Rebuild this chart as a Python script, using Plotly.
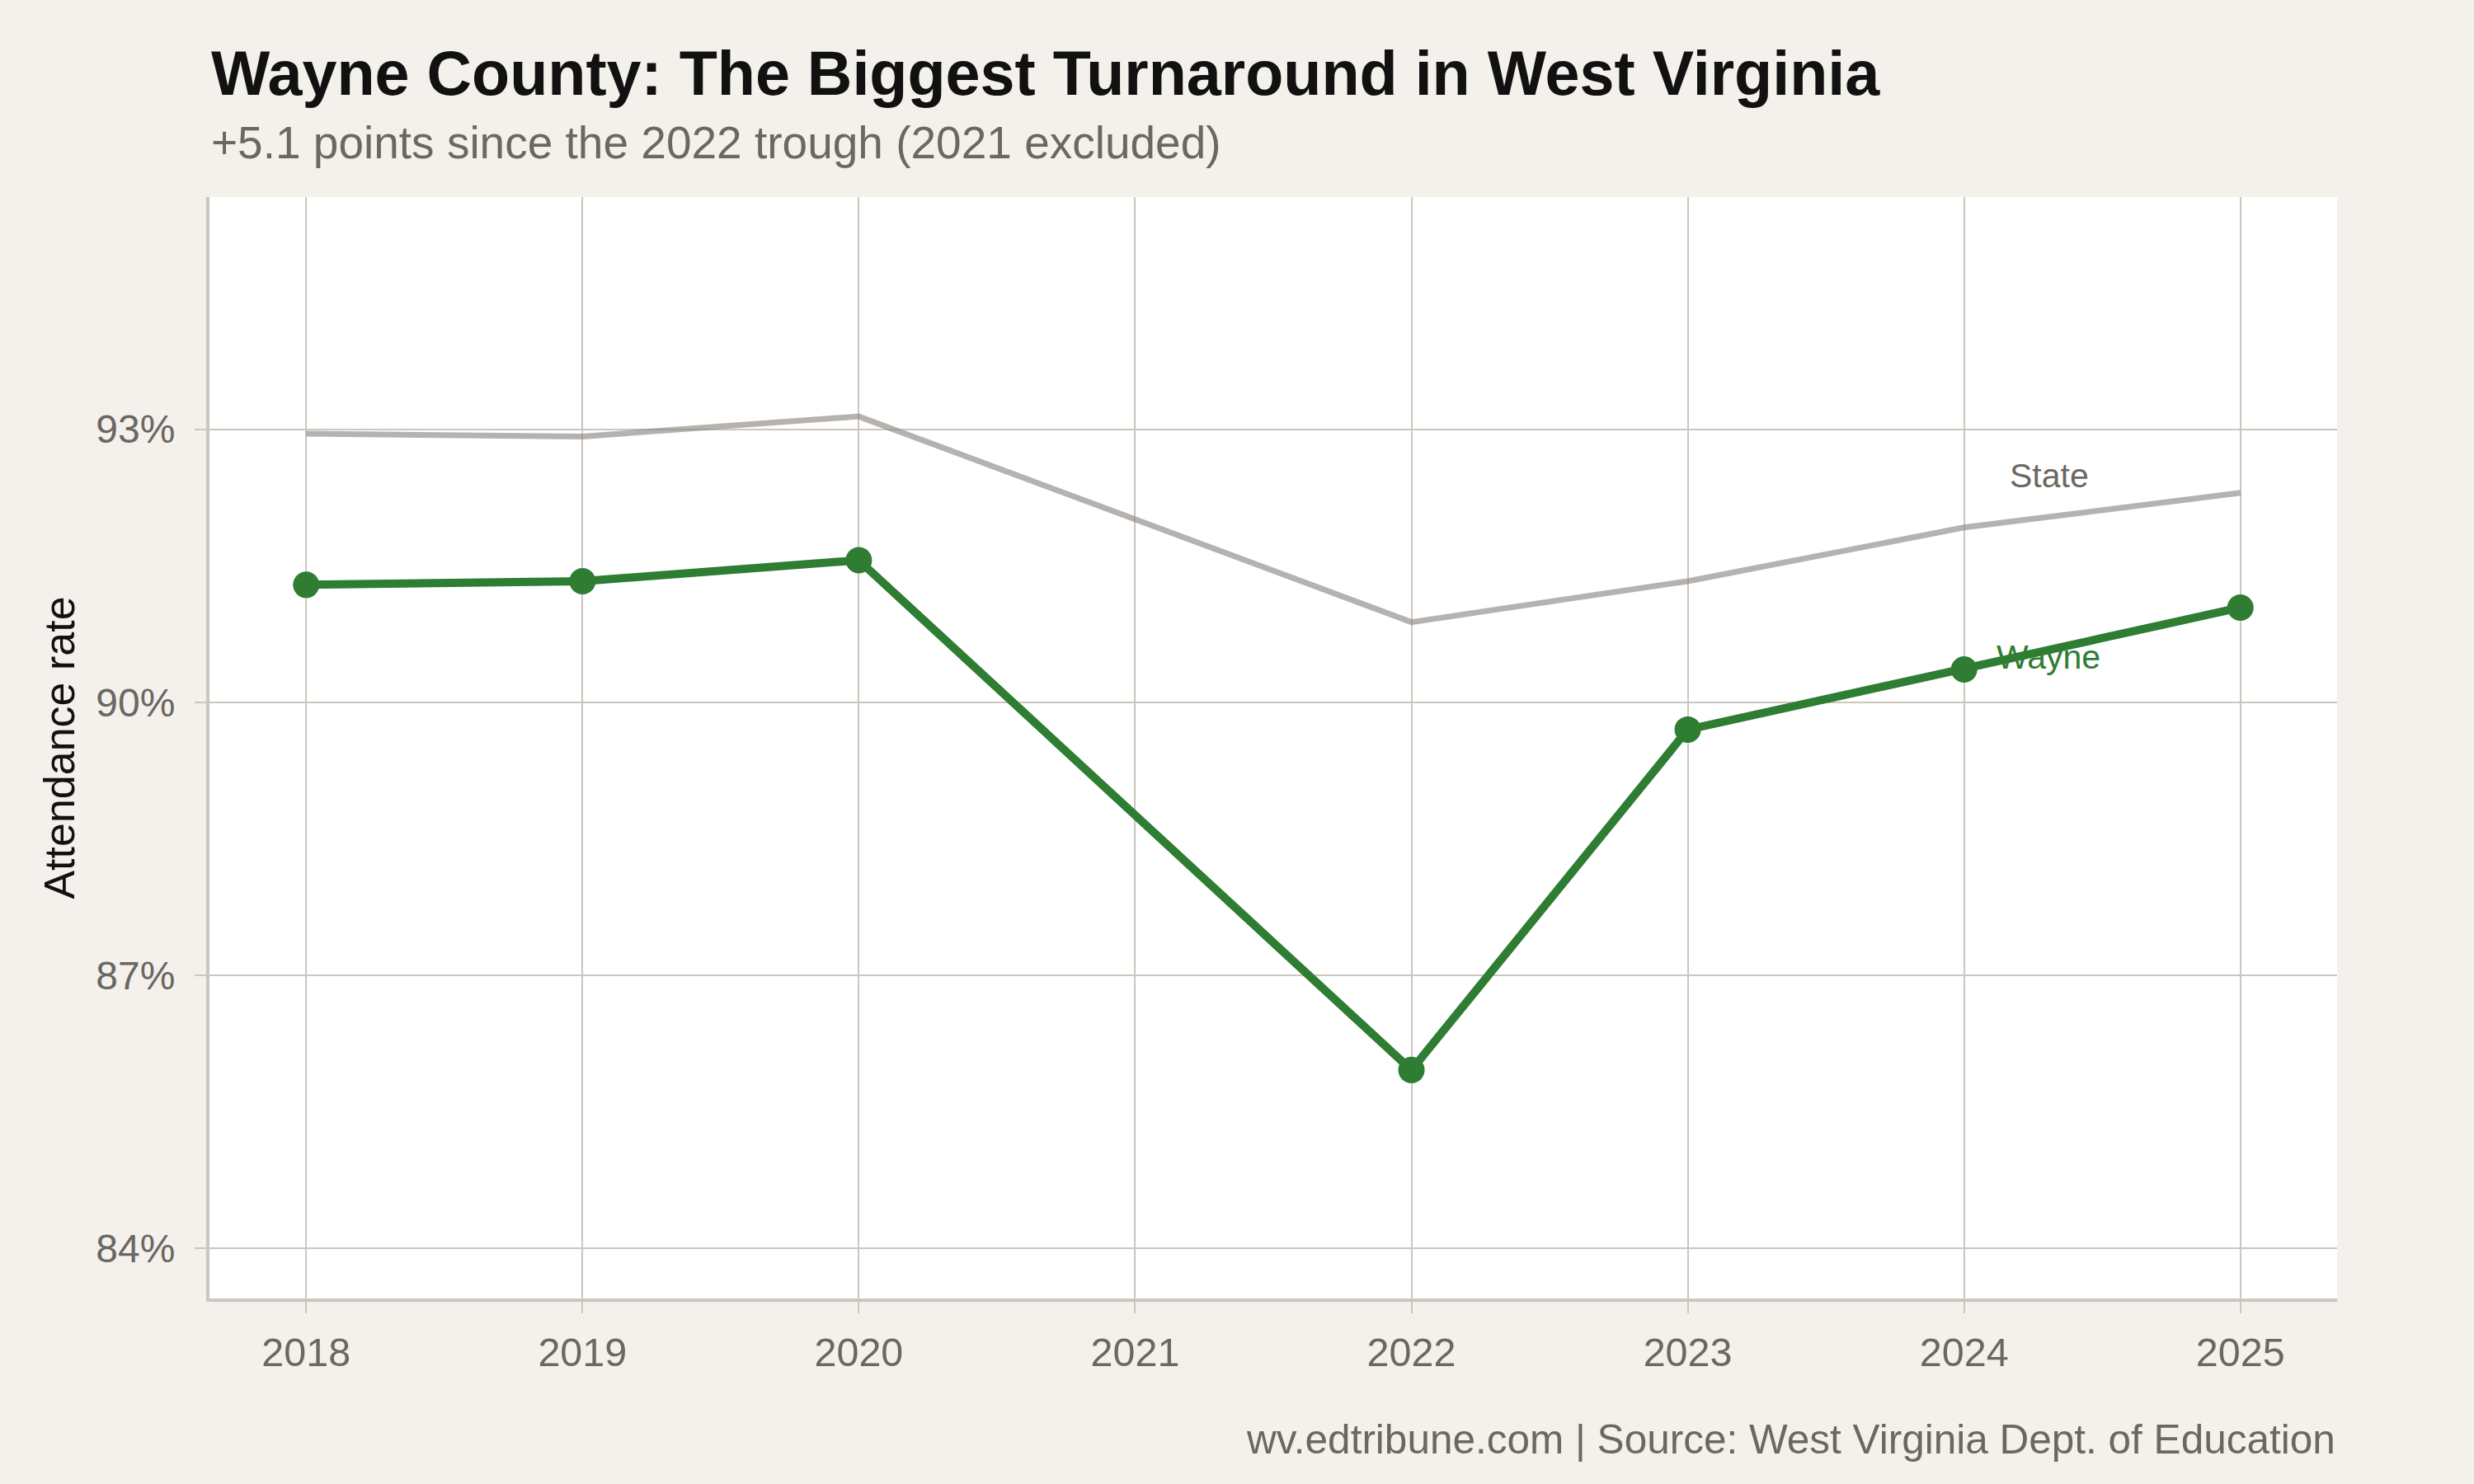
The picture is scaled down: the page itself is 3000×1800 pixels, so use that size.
import plotly.graph_objects as go

years = [2018, 2019, 2020, 2021, 2022, 2023, 2024, 2025]
wayne = [91.29, 91.33, 91.56, None, 85.96, 89.70, 90.36, 91.04]
state = [92.95, 92.92, 93.14, None, 90.88, 91.33, 91.92, 92.30]
ytick_vals = [84, 87, 90, 93]
ytick_text = ["84%", "87%", "90%", "93%"]

title = "Wayne County: The Biggest Turnaround in West Virginia"
subtitle = "+5.1 points since the 2022 trough (2021 excluded)"
footer = "wv.edtribune.com | Source: West Virginia Dept. of Education"

FONT = "Liberation Sans"
GREEN = "#2e7d32"
GRID = "#cbc6be"
MUTED = "#6b6762"

fig = go.Figure()
fig.add_trace(go.Scatter(
    x=years, y=state, mode="lines", connectgaps=True,
    line=dict(color="rgba(143,136,132,0.65)", width=7), hoverinfo="skip", showlegend=False))
fig.add_trace(go.Scatter(
    x=years, y=wayne, mode="lines+markers", connectgaps=True,
    line=dict(color=GREEN, width=10), marker=dict(color=GREEN, size=32), showlegend=False))

fig.add_annotation(x=2024.16, y=92.49, text="State", showarrow=False, xanchor="left", yanchor="middle",
                   font=dict(family=FONT, size=41, color=MUTED))
fig.add_annotation(x=2024.11, y=90.50, text="Wayne", showarrow=False, xanchor="left", yanchor="middle",
                   font=dict(family=FONT, size=41, color=GREEN))

fig.add_annotation(xref="paper", yref="paper", x=0, y=1.1125, text="<b>" + title + "</b>", showarrow=False,
                   xanchor="left", yanchor="middle", font=dict(family=FONT, size=75.5, color="#111111"))
fig.add_annotation(xref="paper", yref="paper", x=0, y=1.0495, text=subtitle, showarrow=False,
                   xanchor="left", yanchor="middle", font=dict(family=FONT, size=55, color=MUTED))
fig.add_annotation(xref="paper", yref="paper", x=1, y=-0.1275, text=footer, showarrow=False,
                   xanchor="right", yanchor="middle", font=dict(family=FONT, size=49.5, color=MUTED))

fig.update_layout(
    width=3000, height=1800,
    margin=dict(l=254, r=166, t=239, b=225),
    paper_bgcolor="#f4f1ec", plot_bgcolor="#ffffff",
    font=dict(family=FONT, size=48, color=MUTED),
    xaxis=dict(range=[2017.65, 2025.35], tickvals=years, ticktext=[str(y) for y in years],
               showgrid=True, gridcolor=GRID, gridwidth=2, zeroline=False,
               showline=True, linecolor=GRID, linewidth=4,
               ticks="outside", ticklen=14, tickwidth=2, tickcolor=GRID,
               ticklabelstandoff=6,
               tickfont=dict(family=FONT, size=48.5, color=MUTED)),
    yaxis=dict(range=[83.45, 95.55], tickvals=ytick_vals, ticktext=ytick_text,
               showgrid=True, gridcolor=GRID, gridwidth=2, zeroline=False,
               showline=True, linecolor=GRID, linewidth=4,
               ticks="outside", ticklen=14, tickwidth=2, tickcolor=GRID,
               ticklabelstandoff=14,
               tickfont=dict(family=FONT, size=48, color=MUTED),
               title=dict(text="Attendance rate", font=dict(family=FONT, size=52, color="#111111"), standoff=10)),
)

fig.write_html("out.html")
